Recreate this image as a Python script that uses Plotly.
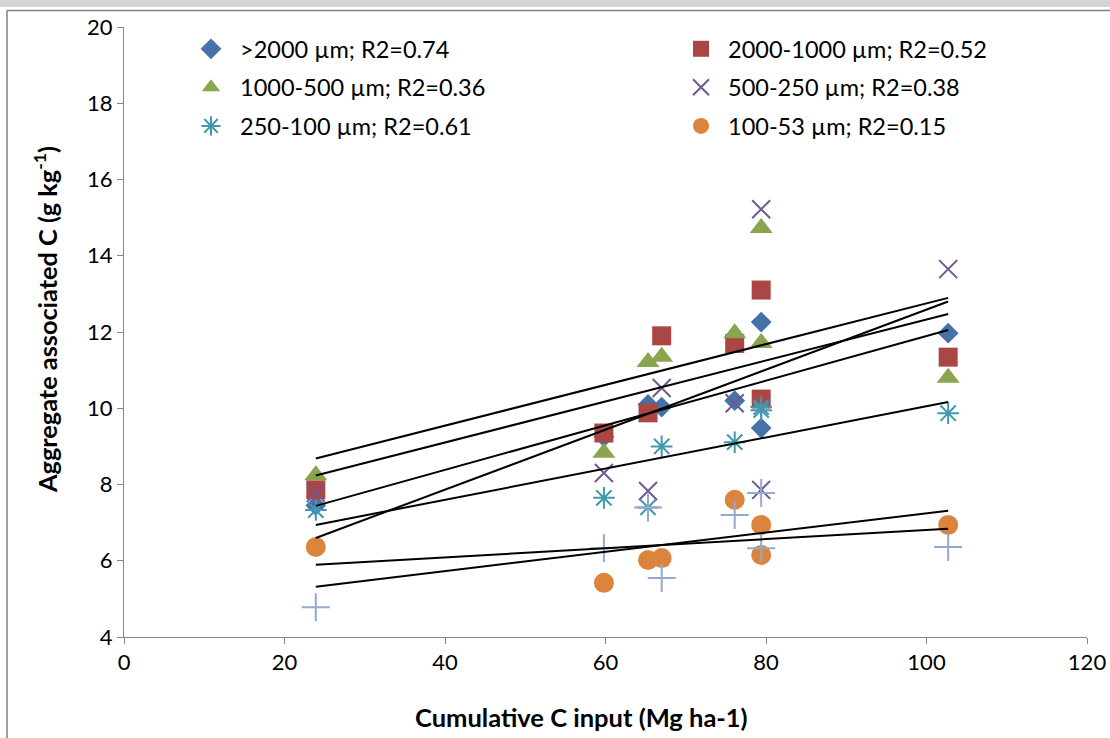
import numpy as np
import plotly.graph_objects as go

# ---- data ----
x_input = [23.9, 59.8, 65.3, 67.0, 76.1, 79.4, 79.4, 102.7]

y_gt2000 = [7.45, 9.25, 10.1, 10.03, 10.2, 12.26, 9.48, 11.97]
y_2000_1000 = [7.86, 9.35, 9.88, 11.9, 11.7, 13.1, 10.24, 11.34]
y_1000_500 = [8.24, 8.83, 11.21, 11.35, 11.97, 14.73, 11.71, 10.8]
y_500_250 = [7.78, 8.3, 7.83, 10.53, 10.13, 15.22, 7.86, 13.65]
y_250_100 = [7.33, 7.65, 7.4, 9.0, 9.11, 10.03, 9.95, 9.87]
y_100_53 = [6.36, 5.42, 6.02, 6.07, 7.6, 6.94, 6.15, 6.94]
y_lt53 = [4.78, 6.33, 7.4, 5.55, 7.2, 7.78, 6.33, 6.36]

labels = [
    ">2000 µm; R2=0.74",
    "2000-1000 µm; R2=0.52",
    "1000-500 µm; R2=0.36",
    "500-250 µm; R2=0.38",
    "250-100 µm; R2=0.61",
    "100-53 µm; R2=0.15",
    "<53 µm",
]

x_title = "<b>Cumulative C input (Mg ha-1)</b>"
y_title = "<b>Aggregate associated C (g kg<sup>-1</sup>)</b>"

x_ticks = [0, 20, 40, 60, 80, 100, 120]
y_ticks = [4, 6, 8, 10, 12, 14, 16, 18, 20]

series = [y_gt2000, y_2000_1000, y_1000_500, y_500_250, y_250_100, y_100_53, y_lt53]

# ---- styles ----
FONT = "Lato, 'Open Sans', sans-serif"
styles = [
    dict(symbol="diamond", color="#4572A7", size=16, line=dict(width=0)),
    dict(symbol="square", color="#AA4643", size=19, line=dict(width=0)),
    dict(symbol="triangle-up", color="#89A54E", size=20, line=dict(width=0)),
    dict(symbol="x-thin-open", color="#71588F", size=18, line=dict(width=2, color="#71588F")),
    dict(symbol="asterisk-open", color="#4198AF", size=18, line=dict(width=2, color="#4198AF")),
    dict(symbol="circle", color="#DB843D", size=20, line=dict(width=0)),
    dict(symbol="cross-thin-open", color="#93A9CF", size=20, line=dict(width=2, color="#93A9CF")),
]
legend_ids = ["legend", "legend2", "legend", "legend2", "legend", "legend2", None]

fig = go.Figure()

for i, (ys, st, lab, lid) in enumerate(zip(series, styles, labels, legend_ids)):
    tr = dict(
        x=x_input, y=ys, mode="markers", name=lab, marker=st,
        legendgroup=f"g{i}", showlegend=lid is not None,
    )
    if lid is not None:
        tr["legend"] = lid
    fig.add_trace(go.Scatter(**tr))

# linear trendlines fitted to each series
for i, ys in enumerate(series):
    slope, icpt = np.polyfit(x_input, ys, 1)
    xs = np.array([min(x_input), max(x_input)])
    fig.add_trace(go.Scatter(
        x=xs, y=slope * xs + icpt, mode="lines",
        line=dict(color="black", width=2), showlegend=False, hoverinfo="skip",
    ))

# ---- layout geometry (pixels) ----
W, H = 1110, 738
L, R, T, B = 124, 23, 27, 101
pw, ph = W - L - R, H - T - B

def px(xp):
    return (xp - L) / pw

def py(yp):
    return (H - B - yp) / ph

TICK = 22
axis_common = dict(
    showgrid=False, zeroline=False, showline=True, linecolor="#868686", linewidth=1,
    ticks="outside", ticklen=6, tickcolor="#868686", tickwidth=1,
    tickfont=dict(family=FONT, size=TICK, color="black"),
)

leg_common = dict(
    xanchor="left", yanchor="top", orientation="v", tracegroupgap=5,
    bgcolor="rgba(0,0,0,0)",
    font=dict(family=FONT, size=23.5, color="black"),
)

fig.update_layout(
    width=W, height=H,
    margin=dict(l=L, r=R, t=T, b=B, autoexpand=False),
    paper_bgcolor="white", plot_bgcolor="white",
    font=dict(family=FONT, color="black"),
    xaxis=dict(range=[0, 120], tickvals=x_ticks, **axis_common),
    yaxis=dict(range=[4, 20], tickvals=y_ticks, **axis_common),
    legend=dict(x=px(182), y=py(27), itemwidth=48, **leg_common),
    legend2=dict(x=px(674), y=py(27), itemwidth=44, **leg_common),
    annotations=[
        dict(text=x_title, xref="paper", yref="paper", x=px(581), y=py(717),
             xanchor="center", yanchor="middle", showarrow=False,
             font=dict(family=FONT, size=25.5, color="black")),
        dict(text=y_title, xref="paper", yref="paper", x=px(45), y=py(320),
             xanchor="center", yanchor="middle", showarrow=False, textangle=-90,
             font=dict(family=FONT, size=25.3, color="black")),
    ],
    shapes=[
        dict(type="rect", xref="paper", yref="paper",
             x0=px(0), x1=px(W), y0=py(7), y1=py(0),
             fillcolor="#D4D4D4", line=dict(width=0)),
        dict(type="line", xref="paper", yref="paper",
             x0=px(7), x1=px(W), y0=py(10.5), y1=py(10.5),
             line=dict(color="#808080", width=1.5)),
        dict(type="line", xref="paper", yref="paper",
             x0=px(7), x1=px(7), y0=py(10.5), y1=py(H),
             line=dict(color="#808080", width=1.5)),
    ],
)

fig.write_html(
    "out.html",
    config={"displayModeBar": False},
    post_script="document.body.style.margin='0';document.body.style.overflow='hidden';",
)
